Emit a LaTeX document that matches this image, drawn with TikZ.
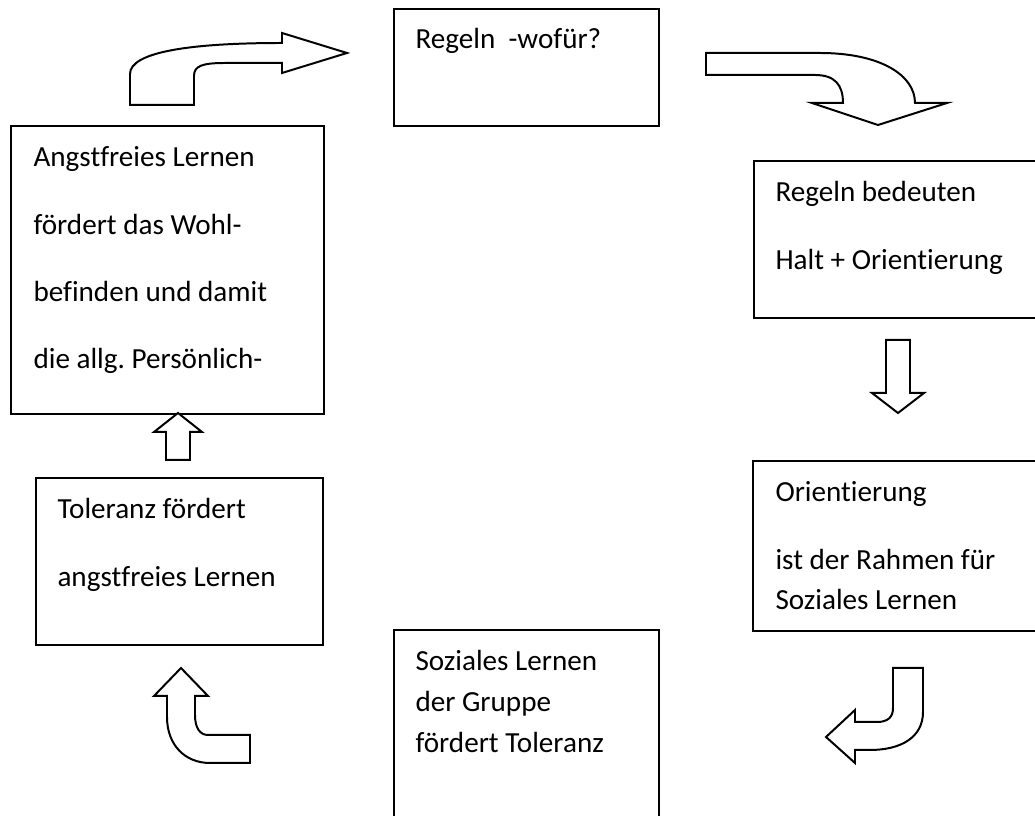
\documentclass[tikz,border=0pt]{standalone}
\usepackage{fontspec}
\setmainfont{Carlito}[Ligatures=NoCommon]
\frenchspacing
\newlength{\px}
\setlength{\px}{0.3774pt}
\tikzset{
	box/.style={draw,line width=0.75pt,anchor=north west,inner sep=0pt},
	txt/.style={anchor=north west,inner sep=0pt,align=left,font=\fontsize{11pt}{15.45pt}\selectfont},
	blockarrow/.style={draw,fill=white,line width=0.75pt,line join=miter}
}
\begin{document}
\begin{tikzpicture}[x=1\px,y=-1\px]
		\useasboundingbox (0,0) rectangle (1035,816);
		% boxes
		\node [box,minimum width=265\px,minimum height=117\px] (regeln) at (393,8) {};
		\node [box,minimum width=313\px,minimum height=288\px] (angst) at (10,125) {};
		\node [box,minimum width=290\px,minimum height=157\px] (halt) at (753,160) {};
		\node [box,minimum width=290\px,minimum height=170\px] (orient) at (752,460) {};
		\node [box,minimum width=287\px,minimum height=167\px] (toleranz) at (35,477) {};
		\node [box,minimum width=265\px,minimum height=200\px] (sozial) at (393,629) {};
		% texts
		\node [txt] (regelntxt) at ([shift={(22,20)}]regeln.north west) {Regeln\ \ -wofür?};
		\node [txt] (angsttxt) at ([shift={(23,21)}]angst.north west) {Angstfreies Lernen\\[10pt] fördert das Wohl-\\[10pt] befinden und damit\\[10pt] die allg. Persönlich-};
		\node [txt] (halttxt) at ([shift={(22,21)}]halt.north west) {Regeln bedeuten\\[10pt] Halt + Orientierung};
		\node [txt] (orienttxt) at ([shift={(23,21)}]orient.north west) {Orientierung\\[10pt] ist der Rahmen für\\ Soziales Lernen};
		\node [txt] (toleranztxt) at ([shift={(22,21)}]toleranz.north west) {Toleranz fördert\\[10pt] angstfreies Lernen};
		\node [txt] (sozialtxt) at ([shift={(22,21)}]sozial.north west) {Soziales Lernen\\ der Gruppe\\ fördert Toleranz};
		% arrows
		\draw [blockarrow] (130,105) -- (130,74) .. controls (130,52) and (190,43) .. (282,43) -- (282,33) -- (347,53) -- (282,73) -- (282,63) -- (225,63) .. controls (202,63) and (194,66) .. (194,76) -- (194,105) -- cycle;
		\draw [blockarrow] (706,53) -- (820,53) .. controls (880,53) and (915,75) .. (915,103) -- (947,103) -- (878,125) -- (812,103) -- (843,103) .. controls (843,85) and (835,75) .. (815,75) -- (706,75) -- cycle;
		\draw [blockarrow] (886,340) -- (910,340) -- (910,393) -- (924,393) -- (898,413) -- (872,393) -- (886,393) -- cycle;
		\draw [blockarrow] (166,460) -- (166,432) -- (154,432) -- (178,413) -- (202,432) -- (190,432) -- (190,460) -- cycle;
		\draw [blockarrow] (893,668) -- (923,668) -- (923,712) .. controls (923,738) and (900,750) .. (870,750) -- (855,750) -- (855,763) -- (826,737) -- (855,710) -- (855,722) -- (877,722) .. controls (888,722) and (893,717) .. (893,708) -- cycle;
		\draw [blockarrow] (181,668) -- (208,696) -- (195,696) -- (195,715) .. controls (195,728) and (200,735) .. (208,735) -- (250,735) -- (250,763) -- (210,763) .. controls (185,763) and (167,745) .. (167,717) -- (167,696) -- (154,696) -- cycle;
	\end{tikzpicture}
\end{document}
